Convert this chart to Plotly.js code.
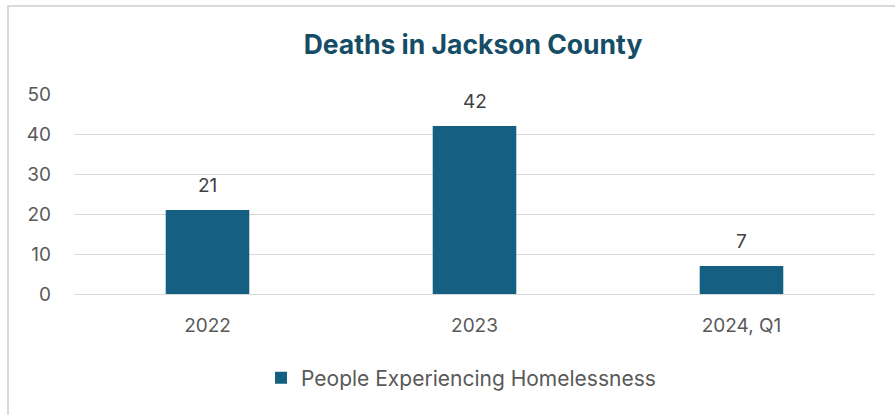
<!DOCTYPE html>
<html>
<head>
<meta charset="utf-8">
<script src="https://cdn.plot.ly/plotly-3.0.1.min.js"></script>
<style>html,body{margin:0;padding:0;background:#fff;}#chart{width:895px;height:415px;}</style>
</head>
<body>
<div id="chart"></div>
<script>
const categories = ["2022", "2023", "2024, Q1"];
const deaths = [21, 42, 7];
const seriesName = "People Experiencing Homelessness";
const yTicks = [0, 10, 20, 30, 40, 50];

const W = 895, H = 415;
const m = {l: 74, r: 20, t: 94, b: 121};
const pw = W - m.l - m.r, ph = H - m.t - m.b;
const px = v => (v - m.l) / pw;
const py = v => (H - m.b - v) / ph;

const font = "Inter, Liberation Sans, sans-serif";
const barColor = "#156082";

const trace = {
  type: "bar",
  x: categories,
  y: deaths,
  name: seriesName,
  marker: {color: barColor},
  width: 0.313,
  hoverinfo: "none"
};

const annotations = categories.map((c, i) => ({
  x: i, y: deaths[i], xref: "x", yref: "y",
  text: String(deaths[i]), showarrow: false,
  yanchor: "middle", yshift: 25,
  font: {family: font, size: 19, color: "#404040"}
}));

const layout = {
  width: W, height: H,
  margin: m,
  paper_bgcolor: "#ffffff",
  plot_bgcolor: "#ffffff",
  showlegend: true,
  title: {
    text: "<b>Deaths in Jackson County</b>",
    font: {family: font, size: 26.5, color: "#154D66"},
    x: px(473), xanchor: "center", xref: "paper",
    y: 1 - 45 / H, yanchor: "middle", yref: "container"
  },
  xaxis: {
    type: "category",
    range: [-0.5, 2.5],
    showgrid: false, zeroline: false, showline: false,
    ticks: "",
    tickfont: {family: font, size: 19, color: "#595959"},
    ticklabelstandoff: 18,
    fixedrange: true
  },
  yaxis: {
    range: [0, 50],
    tickvals: yTicks,
    ticktext: yTicks.map(String),
    showgrid: true, gridcolor: "#D9D9D9", gridwidth: 1,
    zeroline: true, zerolinecolor: "#D9D9D9", zerolinewidth: 1,
    showline: false, ticks: "",
    tickfont: {family: font, size: 19, color: "#595959"},
    ticklabelstandoff: 22,
    fixedrange: true
  },
  legend: {
    orientation: "h",
    x: px(461), xanchor: "center",
    y: py(378), yanchor: "middle",
    font: {family: font, size: 21, color: "#595959"},
    itemwidth: 30
  },
  annotations: annotations,
  shapes: [
    {type: "line", xref: "paper", yref: "paper", x0: px(8), x1: px(8), y0: py(5), y1: py(420), line: {color: "#D9D9D9", width: 2}},
    {type: "line", xref: "paper", yref: "paper", x0: px(7), x1: px(900), y0: py(6), y1: py(6), line: {color: "#D9D9D9", width: 2}}
  ]
};

Plotly.newPlot("chart", [trace], layout, {displayModeBar: false, staticPlot: true});
</script>
</body>
</html>
